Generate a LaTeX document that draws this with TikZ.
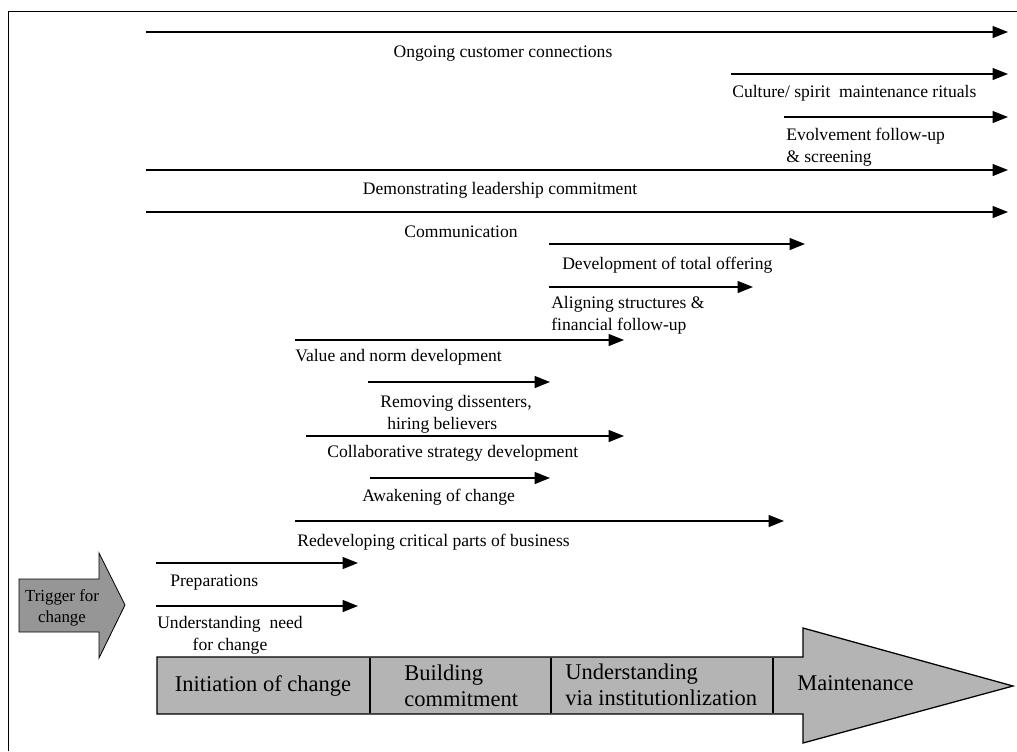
\documentclass[tikz,border=0pt]{standalone}
\usepackage{fontspec}
\setmainfont{Liberation Serif}
\usetikzlibrary{arrows.meta}
\definecolor{triggergray}{RGB}{150,150,150}
\definecolor{phasegray}{RGB}{180,180,180}
\tikzset{
  flow/.style={line width=1.05pt,-{Triangle[length=11pt,width=8.5pt]}},
  lbl/.style={inner sep=0pt,yshift=-1.4pt,font=\fontsize{12.5}{15.5}\selectfont},
  phaselbl/.style={inner sep=0pt,anchor=west,align=left,font=\fontsize{16}{18.5}\selectfont}
}
\begin{document}
\begin{tikzpicture}[x=0.025cm,y=-0.025cm]
\useasboundingbox (0,0) rectangle (1017,751);
% frame
\draw[line width=0.7pt] (8,751) -- (8,11) -- (1017,11);

% long running activities
\coordinate (ongS) at (146,32);   \coordinate (ongE) at (1008,32);
\coordinate (culS) at (731,74);   \coordinate (culE) at (1008,74);
\coordinate (evoS) at (784,117);  \coordinate (evoE) at (1008,117);
\coordinate (demS) at (146,170);  \coordinate (demE) at (1008,170);
\coordinate (comS) at (146,212);  \coordinate (comE) at (1008,212);
\draw[flow] (ongS) -- (ongE);
\draw[flow] (culS) -- (culE);
\draw[flow] (evoS) -- (evoE);
\draw[flow] (demS) -- (demE);
\draw[flow] (comS) -- (comE);
\node[lbl] (ong) at (503,52) {Ongoing customer connections};
\node[lbl,anchor=west] (cul) at (732,91) {Culture/ spirit~ maintenance rituals};
\node[lbl,anchor=west,align=left] (evo) at (786,145) {Evolvement follow-up\\\& screening};
\node[lbl] (dem) at (500,188) {Demonstrating leadership commitment};
\node[lbl] (com) at (461,230) {Communication};

% middle activities
\coordinate (devS) at (549,244);  \coordinate (devE) at (805,244);
\coordinate (aliS) at (549,287);  \coordinate (aliE) at (753,287);
\coordinate (valS) at (295,340);  \coordinate (valE) at (624,340);
\coordinate (remS) at (368,382);  \coordinate (remE) at (550,382);
\coordinate (colS) at (306,436);  \coordinate (colE) at (624,436);
\coordinate (awaS) at (370,478);  \coordinate (awaE) at (550,478);
\coordinate (redS) at (295,521);  \coordinate (redE) at (784,521);
\draw[flow] (devS) -- (devE);
\draw[flow] (aliS) -- (aliE);
\draw[flow] (valS) -- (valE);
\draw[flow] (remS) -- (remE);
\draw[flow] (colS) -- (colE);
\draw[flow] (awaS) -- (awaE);
\draw[flow] (redS) -- (redE);
\node[lbl,anchor=west] (dev) at (562,263) {Development of total offering};
\node[lbl,anchor=west,align=left] (ali) at (551,313) {Aligning structures \&\\financial follow-up};
\node[lbl,anchor=west] (val) at (295,355) {Value and norm development};
\node[lbl,anchor=west,align=left] (rem) at (380,412) {Removing dissenters,\\\hspace{5pt}hiring believers};
\node[lbl,anchor=west] (col) at (327,451) {Collaborative strategy development};
\node[lbl,anchor=west] (awa) at (362,495) {Awakening of change};
\node[lbl,anchor=west] (red) at (297,540) {Redeveloping critical parts of business};

% early activities
\coordinate (preS) at (156,563);  \coordinate (preE) at (358,563);
\coordinate (undS) at (156,606);  \coordinate (undE) at (358,606);
\draw[flow] (preS) -- (preE);
\draw[flow] (undS) -- (undE);
\node[lbl,anchor=west] (pre) at (170,581) {Preparations};
\node[lbl,align=center] (und) at (230,633) {Understanding~ need\\for change};

% trigger
\filldraw[fill=triggergray,draw=black,line width=0.6pt]
  (19,579) -- (99,579) -- (99,553) -- (125,605) -- (99,658) -- (99,632) -- (19,632) -- cycle;
\node[lbl,align=center,font=\fontsize{12}{14.5}\selectfont] (trig) at (62,606) {Trigger for\\change};

% phases
\filldraw[fill=phasegray,draw=black,line width=0.9pt]
  (157,657) -- (803,657) -- (803,628) -- (1013,686) -- (803,743) -- (803,714) -- (157,714) -- cycle;
\draw[line width=0.9pt] (370,658) -- (370,713);
\draw[line width=0.9pt] (551,658) -- (551,713);
\draw[line width=0.9pt] (773,658) -- (773,713);
\node[phaselbl,anchor=center] (ini) at (263,686) {Initiation of change};
\node[phaselbl] (bui) at (404,686) {Building\\commitment};
\node[phaselbl] (ins) at (565,685) {Understanding\\via institutionlization};
\node[phaselbl] (mai) at (797,683) {Maintenance};
\end{tikzpicture}
\end{document}
